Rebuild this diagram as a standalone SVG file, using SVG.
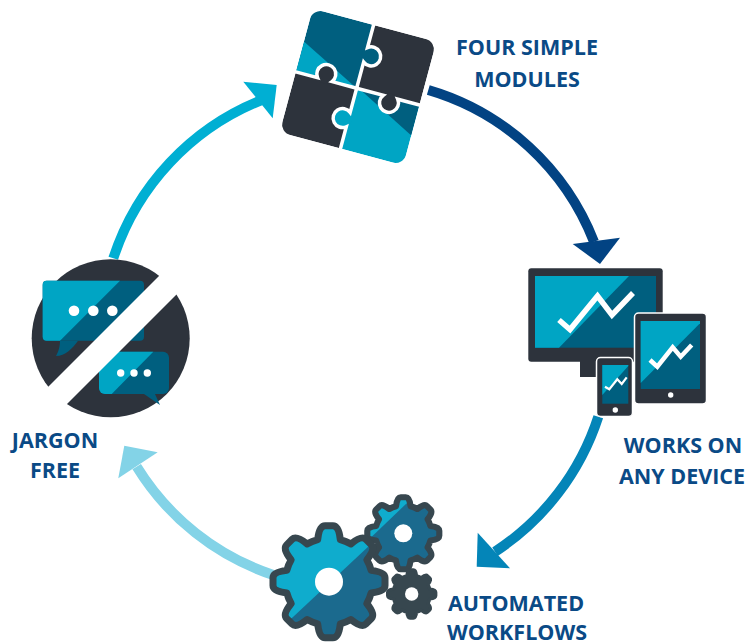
<svg xmlns="http://www.w3.org/2000/svg" width="749" height="643" viewBox="0 0 749 643">
<style>
text{font-family:"Open Sans","Noto Sans",sans-serif;font-weight:700;font-size:21.5px;fill:#0a4a86;text-anchor:middle}
.dk{fill:#2d333c}.tl{fill:#00a5c4}.td{fill:#005f7f}.wh{fill:#fff}
.chk{fill:none;stroke:#fff;stroke-linejoin:miter}
.arc{fill:none;stroke-width:10}
.seam{fill:none;stroke:#fff;stroke-width:3.5}
.gs{fill:none;stroke:#37474f;stroke-linejoin:round}
</style>
<defs>
<path id="gear" d="M-20.2-75.3Q-17.5-100-7-100H7Q17.5-100 20.2-75.3A78 78 0 0 1 39-67.5Q58.4-83.1 65.8-75.7L75.7-65.8Q83.1-58.4 67.5-39A78 78 0 0 1 75.3-20.2Q100-17.5 100-7V7Q100 17.5 75.3 20.2A78 78 0 0 1 67.5 39Q83.1 58.4 75.7 65.8L65.8 75.7Q58.4 83.1 39 67.5A78 78 0 0 1 20.2 75.3Q17.5 100 7 100H-7Q-17.5 100-20.2 75.3A78 78 0 0 1-39 67.5Q-58.4 83.1-65.8 75.7L-75.7 65.8Q-83.1 58.4-67.5 39A78 78 0 0 1-75.3 20.2Q-100 17.5-100 7V-7Q-100-17.5-75.3-20.2A78 78 0 0 1-67.5-39Q-83.1-58.4-75.7-65.8L-65.8-75.7Q-58.4-83.1-39-67.5A78 78 0 0 1-20.2-75.3Z"/>
<clipPath id="gc1"><polygon points="370,545 291.7,618.3 200,600 200,450 400,450"/></clipPath>
<clipPath id="gc2"><polygon points="406.7,503.3 371.7,536.7 340,540 340,480 420,480"/></clipPath>
<clipPath id="pz"><rect x="-64" y="-64" width="128" height="128" rx="11"/></clipPath>
</defs>

<g id="connectors">
<path class="arc" stroke="#024383" d="M428.3 90A255 255 0 0 1 594 241.7"/>
<polygon fill="#024383" points="572.7,244 620,237.7 600,264"/>
<path class="arc" stroke="#0485b8" d="M598.3 416.7A255 255 0 0 1 495 551.7"/>
<polygon fill="#0485b8" points="477.7,532.7 476.7,566.7 510,568.3"/>
<path class="arc" stroke="#83d3e7" d="M273.3 575A255 255 0 0 1 136.7 466.7"/>
<polygon fill="#83d3e7" points="124.3,445.7 157.7,452.3 118.3,478.3"/>
<path class="arc" stroke="#00afd3" d="M113.3 258.3A255 255 0 0 1 261.7 100"/>
<polygon fill="#00afd3" points="243.3,81.7 276.7,85 272.7,118.3"/>
</g>

<g id="node-modules">
<g transform="translate(358 87) rotate(15)">
<g clip-path="url(#pz)">
<rect class="td" x="-64" y="-64" width="63" height="65.5"/>
<polygon class="tl" points="-64,-30 -1,1.5 -64,1.5"/>
<rect class="dk" x="-1" y="-64" width="65" height="65.5"/>
<rect class="dk" x="-64" y="1.5" width="63" height="62.5"/>
<rect class="tl" x="-1" y="1.5" width="65" height="62.5"/>
<polygon class="td" points="2,1.5 64,1.5 64,33"/>
</g>
<circle class="td" cx="4.8" cy="-33" r="9.5"/>
<circle class="dk" cx="-34" cy="-4.3" r="9.5"/>
<circle class="tl" cx="-6.8" cy="34" r="9.5"/>
<circle class="dk" cx="34" cy="7.3" r="9.5"/>
<path class="seam" d="M-1-66V-40.5A9.5 9.5 0 1 1-1-25.5V1.5"/>
<path class="seam" d="M-66 1.5H-41.5A9.5 9.5 0 1 1-26.5 1.5H-1"/>
<path class="seam" d="M-1 1.5V26.5A9.5 9.5 0 1 0-1 41.5V66"/>
<path class="seam" d="M-1 1.5H26.5A9.5 9.5 0 1 0 41.5 1.5H66"/>
</g>
</g>

<g id="node-devices">
<rect class="dk" x="528.3" y="268.3" width="134.4" height="93.4" rx="3"/>
<rect class="dk" x="580" y="361" width="17" height="16"/>
<rect class="td" x="535" y="276" width="121" height="71.7"/>
<polygon class="tl" points="535,276 629,276 559,347.7 535,347.7"/>
<polyline class="chk" stroke-width="5.5" points="559,320 570,329.5 597.5,296 612,315 633,293"/>
<rect class="dk" x="634.5" y="313" width="72" height="91" rx="4" stroke="#fff" stroke-width="1.5"/>
<rect class="td" x="640.7" y="321" width="59.3" height="68"/>
<polygon class="tl" points="640.7,321 700,321 700,323.3 640.7,383"/>
<polyline class="chk" stroke-width="4.5" points="650,360 657.3,366.7 672.7,347.3 680.7,356.7 691.7,345"/>
<circle class="wh" cx="670.7" cy="395" r="2.7"/>
<rect class="dk" x="596.5" y="357.5" width="36" height="59" rx="4" stroke="#fff" stroke-width="1.5"/>
<rect class="td" x="602.3" y="365" width="26" height="38.7"/>
<polygon class="tl" points="602.3,365 628.3,365 628.3,366 602.3,395"/>
<polyline class="chk" stroke-width="2.2" points="605,386.7 609.3,389.3 617.3,379.3 621.7,384 626.7,377.3"/>
<circle class="wh" cx="615.3" cy="410" r="2.7"/>
</g>

<g id="node-workflows">
<g transform="translate(403.3 533.3) scale(.36)"><use href="#gear" fill="#1b6a8e"/></g>
<g clip-path="url(#gc2)"><g transform="translate(403.3 533.3) scale(.36)"><use href="#gear" fill="#0faccd"/></g></g>
<g transform="translate(403.3 533.3) scale(.36)"><use href="#gear" class="gs" stroke-width="17"/></g>
<circle class="wh" cx="403.3" cy="533.3" r="9"/>
<g transform="translate(411.7 594) scale(.24)"><use href="#gear" fill="#37474f" stroke="#37474f" stroke-width="14" stroke-linejoin="round"/></g>
<circle class="wh" cx="411.7" cy="594" r="6.7"/>
<g transform="translate(329 581.7) scale(.56)"><use href="#gear" fill="#1b6a8e"/></g>
<g clip-path="url(#gc1)"><g transform="translate(329 581.7) scale(.56)"><use href="#gear" fill="#0faccd"/></g></g>
<g transform="translate(329 581.7) scale(.56)"><use href="#gear" class="gs" stroke-width="12.5"/></g>
<circle class="wh" cx="329" cy="581.7" r="14"/>
</g>

<g id="node-jargon">
<circle class="dk" cx="110.7" cy="338.3" r="79"/>
<rect class="td" x="42.7" y="280.7" width="101.3" height="60" rx="4"/>
<path class="tl" d="M46.7 280.7H120L60 340.7H46.7A4 4 0 0 1 42.7 336.7V284.7A4 4 0 0 1 46.7 280.7Z"/>
<path class="td" d="M60 340.7C60 349 57 354 56 356C65 356 73 348 78 340.7Z"/>
<circle class="wh" cx="74" cy="310.7" r="5.3"/>
<circle class="wh" cx="93.3" cy="310.7" r="5.3"/>
<circle class="wh" cx="112.3" cy="310.7" r="5.3"/>
<rect class="td" x="99" y="351.7" width="70" height="42.3" rx="6"/>
<path class="tl" d="M105 351.7H153.3L111.7 394H105A6 6 0 0 1 99 388V357.7A6 6 0 0 1 105 351.7Z"/>
<path class="td" d="M144 394L160 405L155 394Z"/>
<polygon class="wh" points="198,237 216,255 26,445 8,427"/>
<circle class="wh" cx="120.7" cy="373" r="3.7"/>
<circle class="wh" cx="134" cy="373" r="3.7"/>
<circle class="wh" cx="147.3" cy="373" r="3.7"/>
</g>

<g id="labels">
<text x="527" y="55">FOUR SIMPLE</text>
<text x="527" y="87">MODULES</text>
<text x="683" y="453">WORKS ON</text>
<text x="682" y="484">ANY DEVICE</text>
<text x="55" y="448">JARGON</text>
<text x="55" y="478">FREE</text>
<text x="516" y="611">AUTOMATED</text>
<text x="517" y="640">WORKFLOWS</text>
</g>
</svg>
